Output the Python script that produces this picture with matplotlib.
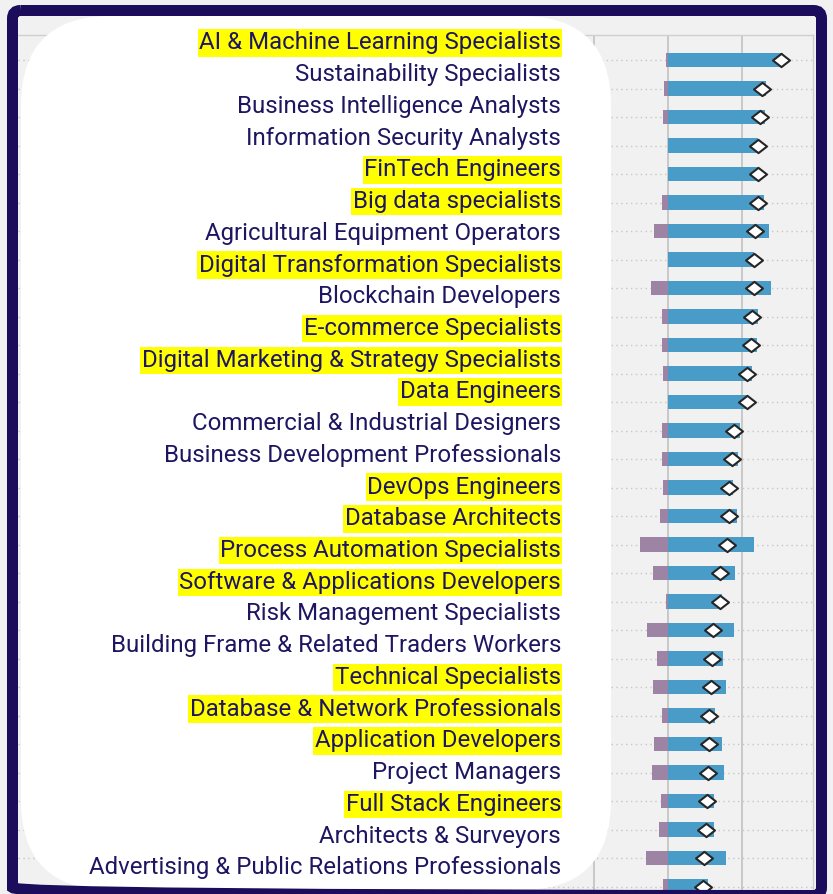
import matplotlib
matplotlib.use("Agg")
import matplotlib.pyplot as plt
import matplotlib.transforms as mtransforms
from matplotlib.patches import FancyBboxPatch, Rectangle
from matplotlib.path import Path

# --- data -------------------------------------------------------------
labels = [
    "AI & Machine Learning Specialists",
    "Sustainability Specialists",
    "Business Intelligence Analysts",
    "Information Security Analysts",
    "FinTech Engineers",
    "Big data specialists",
    "Agricultural Equipment Operators",
    "Digital Transformation Specialists",
    "Blockchain Developers",
    "E-commerce Specialists",
    "Digital Marketing & Strategy Specialists",
    "Data Engineers",
    "Commercial & Industrial Designers",
    "Business Development Professionals",
    "DevOps Engineers",
    "Database Architects",
    "Process Automation Specialists",
    "Software & Applications Developers",
    "Risk Management Specialists",
    "Building Frame & Related Traders Workers",
    "Technical Specialists",
    "Database & Network Professionals",
    "Application Developers",
    "Project Managers",
    "Full Stack Engineers",
    "Architects & Surveyors",
    "Advertising & Public Relations Professionals",
]
highlighted = {
    "AI & Machine Learning Specialists", "FinTech Engineers", "Big data specialists",
    "Digital Transformation Specialists", "E-commerce Specialists",
    "Digital Marketing & Strategy Specialists", "Data Engineers", "DevOps Engineers",
    "Database Architects", "Process Automation Specialists",
    "Software & Applications Developers", "Technical Specialists",
    "Database & Network Professionals", "Application Developers", "Full Stack Engineers",
}

# growth (blue, %) and decline (purple, %) for the 30 bar rows
growth = [77.7, 66.2, 65.7, 61.2, 61.2, 65.3, 68.2, 58.3, 69.6, 60.8,
          60.3, 56.8, 53.8, 48.6, 47.7, 44.4, 46.6, 58.6, 45.5, 36.5,
          44.6, 37.6, 39.2, 32.0, 37.0, 37.8, 31.1, 31.4, 39.6, 27.0]
decline = [-1.1, -2.3, -3.4, 0.0, 0.0, -4.1, -9.3, 0.0, -11.3, -4.1,
           -4.1, -3.0, 0.0, -3.6, -4.1, -3.0, -5.2, -18.7, -10.1, -1.1,
           -13.8, -7.4, -10.1, -4.1, -9.1, -10.4, -4.7, -5.7, -14.9, -3.0]
net = [g + d for g, d in zip(growth, decline)]
rows = list(range(len(growth)))

NAVY = "#1b0d5c"
TEXT = "#1e1660"
BLUE = "#4a9cc8"
PURPLE = "#9d84a5"
BG = "#f1f1f1"

W, H = 833, 894
fig = plt.figure(figsize=(W / 100, H / 100), dpi=100, facecolor=BG)
# pixel coordinates, y pointing down
px = mtransforms.Affine2D().scale(1 / W, -1 / H).translate(0, 1) + fig.transFigure

# --- bar panel --------------------------------------------------------
ax = fig.add_axes([18 / W, 0, (813 - 18) / W, (H - 35) / H], zorder=1)
ax.set_facecolor(BG)
for r in rows:
    ax.axhline(r, color="#c6c6c6", lw=1, ls=(0, (1, 2.5)), zorder=0.5)
ax.barh(rows, growth, height=0.5, color=BLUE, zorder=2)
ax.barh(rows, decline, height=0.5, color=PURPLE, zorder=2)
diamond = Path([(-1, 0), (0, 0.78), (1, 0), (0, -0.78), (-1, 0)],
               [Path.MOVETO, Path.LINETO, Path.LINETO, Path.LINETO, Path.CLOSEPOLY])
ax.scatter(net, rows, marker=diamond, s=150, facecolor="white",
           edgecolor="#262626", linewidth=1.5, zorder=3)

ax.set_xlim(-439, 98.2)
ax.set_ylim(29.26, -0.877)
ax.set_xticks([-100, -50, 0, 50])
ax.set_yticks([])
ax.grid(axis="x", color="#bdbdbd", lw=1.1, zorder=1)
ax.tick_params(length=0, labelbottom=False)
for side in ("left", "bottom"):
    ax.spines[side].set_visible(False)
for side in ("top", "right"):
    ax.spines[side].set_color("#cfcfcf")
    ax.spines[side].set_linewidth(1)

# --- white label card -------------------------------------------------
card = FancyBboxPatch((21, 16), 590, 874, boxstyle="round,pad=0,rounding_size=90",
                      facecolor="white", edgecolor="none", transform=px, zorder=2)
fig.patches.append(card)

texts = []
for i, lab in enumerate(labels):
    base = 49.5 + 31.72 * i
    t = fig.text(561 / W, 1 - base / H, lab, ha="right", va="baseline", fontsize=17.3,
                 family="Roboto", color=TEXT, zorder=3)
    texts.append((t, base, lab in highlighted))

# yellow highlight boxes sized to each label
fig.canvas.draw()
renderer = fig.canvas.get_renderer()
for t, base, hl in texts:
    if not hl:
        continue
    bb = t.get_window_extent(renderer)
    fig.patches.append(Rectangle((bb.x0 - 1.5, base - 20.2), bb.width + 3, 27.4,
                                 facecolor="#ffff00", edgecolor="none",
                                 transform=px, zorder=2.5))

# --- navy frame -------------------------------------------------------
frame = FancyBboxPatch((12.5, 10.5), 809, 885, boxstyle="round,pad=0,rounding_size=8",
                       facecolor="none", edgecolor=NAVY, linewidth=11 * 0.72,
                       transform=px, zorder=4)
fig.patches.append(frame)

fig.savefig("out.png", dpi=100, facecolor=BG)
